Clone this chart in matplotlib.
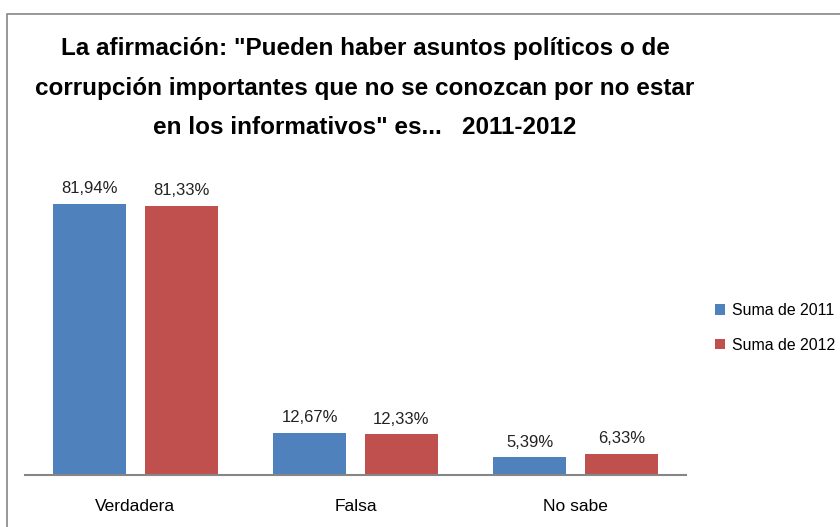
import numpy as np
import matplotlib.pyplot as plt
from matplotlib.patches import Rectangle

categorias = ["Verdadera", "Falsa", "No sabe"]
suma_2011 = [81.94, 12.67, 5.39]
suma_2012 = [81.33, 12.33, 6.33]
series = ["Suma de 2011", "Suma de 2012"]
titulo = ('La afirmación: "Pueden haber asuntos políticos o de\n'
          'corrupción importantes que no se conozcan por no estar\n'
          'en los informativos" es...   2011-2012')

W, H = 840, 527
fig = plt.figure(figsize=(W / 100, H / 100), dpi=100)
plt.rcParams['font.family'] = ['Liberation Sans', 'DejaVu Sans']

# marco gris del gráfico
fig.patches.append(Rectangle((7 / W, -0.1), 1.2, (H - 14) / H + 0.1,
                             transform=fig.transFigure, fill=False,
                             edgecolor='#868686', linewidth=1.2))

ax = fig.add_axes([25 / W, (H - 475) / H, 661 / W, 298 / H])
x = np.arange(len(categorias))
w = 0.331
off = 0.2086
b1 = ax.bar(x - off, suma_2011, w, color='#4F81BD', label=series[0])
b2 = ax.bar(x + off, suma_2012, w, color='#C0504D', label=series[1])

for bars, vals in ((b1, suma_2011), (b2, suma_2012)):
    for b, v in zip(bars, vals):
        ax.text(b.get_x() + b.get_width() / 2, v + 2.3,
                f"{v:.2f}%".replace('.', ','), ha='center', va='bottom',
                fontsize=12, color='#222222')

ax.set_xlim(-0.5, 2.5)
ax.set_ylim(0, 90)
ax.set_yticks([])
ax.set_xticks(x)
ax.set_xticklabels(categorias, fontsize=12.5)
ax.tick_params(axis='x', length=0, pad=17)
for s in ('top', 'right', 'left'):
    ax.spines[s].set_visible(False)
ax.spines['bottom'].set_color('#868686')
ax.spines['bottom'].set_linewidth(1.5)

fig.text(365 / W, 1 - 37 / H, titulo, ha='center', va='top',
         fontsize=17.5, fontweight='bold', linespacing=1.92)

fig.legend(loc='center left', bbox_to_anchor=(709 / W, 1 - 328 / H),
           frameon=False, fontsize=11.4, handlelength=0.6, handleheight=0.6,
           handletextpad=0.45, labelspacing=1.25, borderaxespad=0)

fig.savefig("out.png", dpi=100)
